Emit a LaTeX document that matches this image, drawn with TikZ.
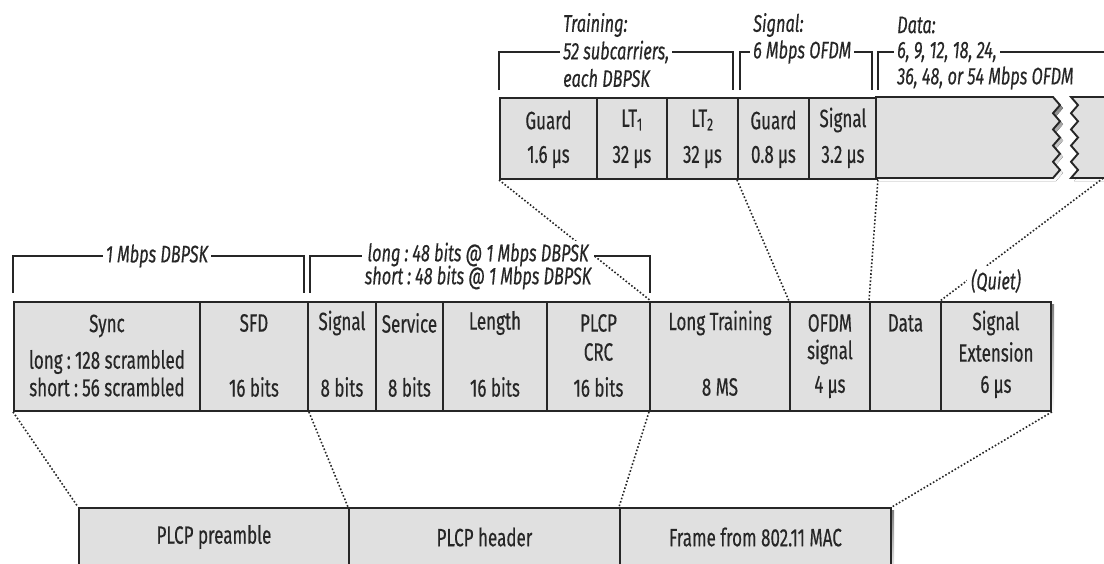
\documentclass[tikz,border=0pt]{standalone}
\usepackage{fontspec}
\setmainfont{Fira Sans}[FakeStretch=0.68, FakeBold=0.35]
\definecolor{cellfill}{HTML}{E0E0E0}
\definecolor{ink}{HTML}{262626}
\definecolor{shade}{HTML}{ABABAB}
\tikzset{
  cellbox/.style={draw=ink, fill=cellfill, line width=1.9pt, inner sep=0pt, anchor=north west},
  txt/.style={inner sep=0pt, text=ink, font=\fontsize{25}{29}\selectfont},
  itxt/.style={inner sep=0pt, text=ink, font=\fontsize{24}{28}\selectfont\itshape},
  wlabel/.style={itxt, fill=white, inner xsep=3pt, inner ysep=3pt},
  bracket/.style={draw=ink, line width=1.9pt},
  guide/.style={draw=ink, dotted, line width=1.6pt},
}
\newcommand\cellnode[5]{\node[cellbox, minimum width={#3-#2}, minimum height={#5-#4}] (#1) at (#2,#4) {};}
\begin{document}
\begin{tikzpicture}[x=1pt,y=-1pt]
\useasboundingbox (0,0) rectangle (1104,563);
% ---------- shadows ----------
\fill[shade] (502,100) rectangle (880,181);
\begin{scope}[shift={(3,3)}]
  \fill[shade] (876,97) -- (1053,97) \foreach \i in {1,...,10}{ -- ({1053+7*mod(\i,2)},{97+8.1*\i}) } -- (876,178) -- cycle;
  \fill[shade] (1112,97) -- (1071,97) \foreach \i in {1,...,10}{ -- ({1071+7*mod(\i,2)},{97+8.1*\i}) } -- (1112,178) -- cycle;
\end{scope}
\fill[shade] (16,304) rectangle (1054,414);
\fill[shade] (81,510) rectangle (894,580);
% ---------- top row ----------
\cellnode{tguard}{499}{596}{97}{178}
\cellnode{tlta}{596}{666}{97}{178}
\cellnode{tltb}{666}{737}{97}{178}
\cellnode{tguardb}{737}{808}{97}{178}
\cellnode{tsig}{808}{876}{97}{178}
\filldraw[draw=ink, fill=cellfill, line width=1.9pt] (876,97) -- (1053,97) \foreach \i in {1,...,10}{ -- ({1053+7*mod(\i,2)},{97+8.1*\i}) } -- (876,178) -- cycle;
\fill[cellfill] (1112,97) -- (1071,97) \foreach \i in {1,...,10}{ -- ({1071+7*mod(\i,2)},{97+8.1*\i}) } -- (1112,178) -- cycle;
\draw[ink, line width=1.9pt] (1112,97) -- (1071,97) \foreach \i in {1,...,10}{ -- ({1071+7*mod(\i,2)},{97+8.1*\i}) } -- (1112,178);
\coordinate (tdr) at (1106,176);
\path (tguard.north) ++(0,23) node[txt] (tguardA) {Guard} ++(0,37) node[txt] (tguardB) {1.6\,µs};
\path (tlta.north) ++(0,23) node[txt] (tltaA) {LT\textsubscript{1}} ++(0,37) node[txt] (tltaB) {32\,µs};
\path (tltb.north) ++(0,23) node[txt] (tltbA) {LT\textsubscript{2}} ++(0,37) node[txt] (tltbB) {32\,µs};
\path (tguardb.north) ++(0,23) node[txt] (tguardbA) {Guard} ++(0,37) node[txt] (tguardbB) {0.8\,µs};
\path (tsig.north) ++(0,23) node[txt] (tsigA) {Signal} ++(0,37) node[txt] (tsigB) {3.2\,µs};
% top brackets
\draw[bracket] (499,90) -- (499,52) -- (733,52) -- (733,90);
\draw[bracket] (740,90) -- (740,52) -- (872,52) -- (872,90);
\draw[bracket] (878,90) -- (878,52) -- (1112,52);
\node[itxt, anchor=west] (trainA) at (563,25) {Training:};
\node[wlabel, anchor=west] (trainB) at (560,52) {52 subcarriers,};
\node[itxt, anchor=west] (trainC) at (563,78) {each DBPSK};
\node[itxt, anchor=west] (signA) at (753,25) {Signal:};
\node[wlabel, anchor=west] (signB) at (750,52) {6 Mbps OFDM};
\node[itxt, anchor=west] (dataA) at (897,25) {Data:};
\node[wlabel, anchor=west] (dataB) at (894,52) {6, 9, 12, 18, 24,};
\node[itxt, anchor=west] (dataC) at (897,78) {36, 48, or 54 Mbps OFDM};
% ---------- middle row ----------
\cellnode{sync}{13}{199}{301}{410}
\cellnode{sfd}{199}{307}{301}{410}
\cellnode{sig}{307}{375}{301}{410}
\cellnode{svc}{375}{442}{301}{410}
\cellnode{len}{442}{546}{301}{410}
\cellnode{crc}{546}{649}{301}{410}
\cellnode{lt}{649}{789}{301}{410}
\cellnode{ofdm}{789}{869}{301}{410}
\cellnode{data}{869}{940}{301}{410}
\cellnode{sext}{940}{1050}{301}{410}
\path (sync.north) ++(0,25) node[txt] (syncA) {Sync} ++(0,36) node[txt] (syncB) {long\,:\,128 scrambled} ++(0,25) node[txt] (syncC) {short\,:\,56 scrambled};
\path (sfd.north) ++(0,22) node[txt] (sfdA) {SFD} ++(0,64) node[txt] (sfdB) {16 bits};
\path (sig.north) ++(0,22) node[txt] (sigA) {Signal} ++(0,64) node[txt] (sigB) {8 bits};
\path (svc.north) ++(0,22) node[txt] (svcA) {Service} ++(0,64) node[txt] (svcB) {8 bits};
\path (len.north) ++(0,22) node[txt] (lenA) {Length} ++(0,64) node[txt] (lenB) {16 bits};
\path (crc.north) ++(0,22) node[txt] (crcA) {PLCP} ++(0,29) node[txt] (crcB) {CRC} ++(0,35) node[txt] (crcC) {16 bits};
\path (lt.north) ++(0,22) node[txt] (ltA) {Long Training} ++(0,64) node[txt] (ltB) {8 MS};
\path (ofdm.north) ++(0,22) node[txt] (ofdmA) {OFDM} ++(0,29) node[txt] (ofdmB) {signal} ++(0,35) node[txt] (ofdmC) {4\,µs};
\path (data.north) ++(0,22) node[txt] (dataT) {Data};
\path (sext.north) ++(0,22) node[txt] (sextA) {Signal} ++(0,29) node[txt] (sextB) {Extension} ++(0,35) node[txt] (sextC) {6\,µs};
% middle brackets
\draw[bracket] (13,293) -- (13,256) -- (304,256) -- (304,293);
\draw[bracket] (310,293) -- (310,256) -- (650,256) -- (650,293);
\node[wlabel] (rateA) at (157,256) {1 Mbps DBPSK};
% ---------- bottom row ----------
\cellnode{pre}{78}{348}{507}{577}
\cellnode{hdr}{348}{619}{507}{577}
\cellnode{mac}{619}{890}{507}{577}
\path (pre.north) ++(0,30) node[txt] (preT) {PLCP preamble};
\path (hdr.north) ++(0,30) node[txt] (hdrT) {PLCP header};
\path (mac.north) ++(0,30) node[txt] (macT) {Frame from 802.11 MAC};
% ---------- dotted guides ----------
\draw[guide] (tguard.south west) -- (crc.north east);
\draw[guide] (tguardb.south west) -- (ofdm.north west);
\draw[guide] (tsig.south east) -- (data.north west);
\draw[guide] (tdr) -- (sext.north west);
\draw[guide] (sync.south west) -- (pre.north west);
\draw[guide] (sfd.south east) -- (hdr.north west);
\draw[guide] (lt.south west) -- (mac.north west);
\draw[guide] (sext.south east) -- (mac.north east);
% labels drawn over guides
\node[wlabel, align=center, inner ysep=2pt] (rateB) at (478,266) {long\,:\,48 bits @ 1 Mbps DBPSK\\[-5pt]short\,:\,48 bits @ 1 Mbps DBPSK};
\node[wlabel, inner xsep=4pt] (quiet) at (996,281) {(Quiet)};
\end{tikzpicture}
\end{document}
